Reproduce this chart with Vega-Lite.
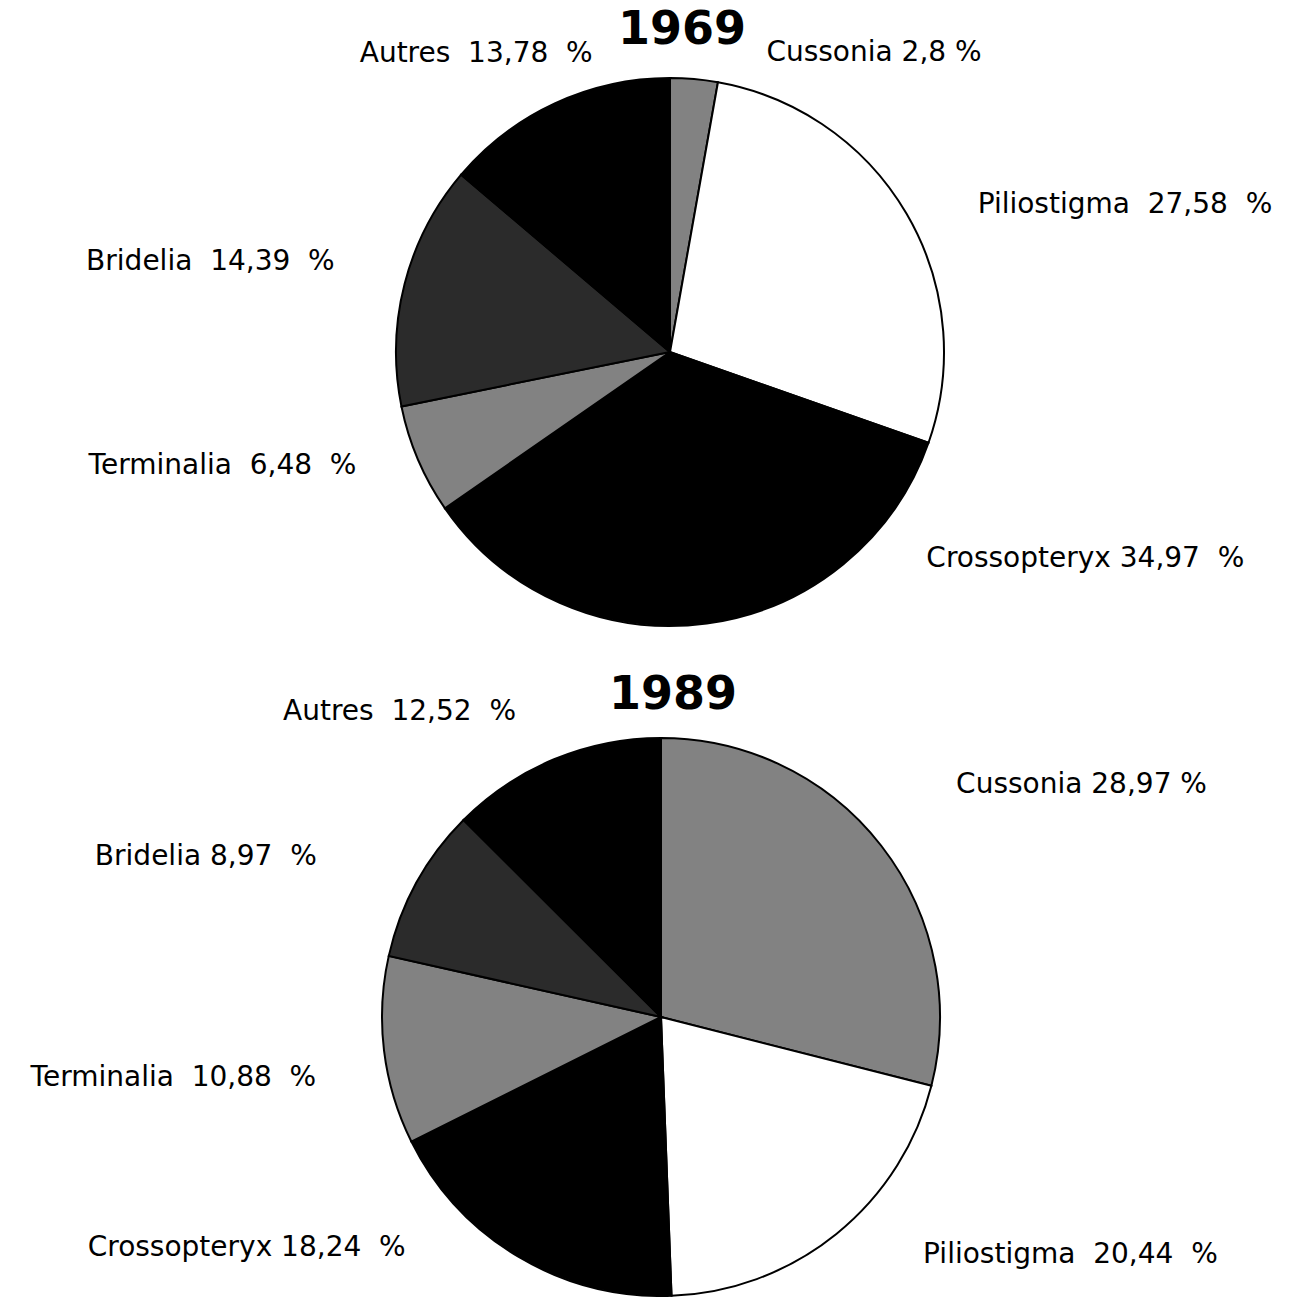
{
  "$schema": "https://vega.github.io/schema/vega-lite/v6.json",
  "width": 1308,
  "height": 1297,
  "padding": 0,
  "autosize": {"type": "none"},
  "background": "white",
  "config": {"view": {"stroke": null}},
  "data": {
    "values": [
      {"year": "1969", "n": 1, "species": "Cussonia", "pct": 2.8, "label": "Cussonia 2,8 %"},
      {"year": "1969", "n": 2, "species": "Piliostigma", "pct": 27.58, "label": "Piliostigma\u00a0 27,58\u00a0 %"},
      {"year": "1969", "n": 3, "species": "Crossopteryx", "pct": 34.97, "label": "Crossopteryx 34,97\u00a0 %"},
      {"year": "1969", "n": 4, "species": "Terminalia", "pct": 6.48, "label": "Terminalia\u00a0 6,48\u00a0 %"},
      {"year": "1969", "n": 5, "species": "Bridelia", "pct": 14.39, "label": "Bridelia\u00a0 14,39\u00a0 %"},
      {"year": "1969", "n": 6, "species": "Autres", "pct": 13.78, "label": "Autres\u00a0 13,78\u00a0 %"},
      {"year": "1989", "n": 1, "species": "Cussonia", "pct": 28.97, "label": "Cussonia 28,97 %"},
      {"year": "1989", "n": 2, "species": "Piliostigma", "pct": 20.44, "label": "Piliostigma\u00a0 20,44\u00a0 %"},
      {"year": "1989", "n": 3, "species": "Crossopteryx", "pct": 18.24, "label": "Crossopteryx 18,24\u00a0 %"},
      {"year": "1989", "n": 4, "species": "Terminalia", "pct": 10.88, "label": "Terminalia\u00a0 10,88\u00a0 %"},
      {"year": "1989", "n": 5, "species": "Bridelia", "pct": 8.97, "label": "Bridelia 8,97\u00a0 %"},
      {"year": "1989", "n": 6, "species": "Autres", "pct": 12.52, "label": "Autres\u00a0 12,52\u00a0 %"}
    ]
  },
  "encoding": {
    "x": {"field": "year", "type": "nominal", "scale": {"type": "point", "range": [670, 661], "padding": 0}, "axis": null},
    "y": {"field": "year", "type": "nominal", "scale": {"type": "point", "range": [352, 1017], "padding": 0}, "axis": null}
  },
  "layer": [
    {
      "transform": [{"filter": "datum.year == '1969'"}],
      "mark": {"type": "arc", "outerRadius": 274, "stroke": "black", "strokeWidth": 2, "fillOpacity": 1},
      "encoding": {
        "theta": {"field": "pct", "type": "quantitative", "stack": true},
        "order": {"field": "n", "type": "quantitative"},
        "color": {"field": "species", "type": "nominal", "legend": null,
          "scale": {"domain": ["Cussonia", "Piliostigma", "Crossopteryx", "Terminalia", "Bridelia", "Autres"],
                    "range": ["#828282", "#ffffff", "#000000", "#828282", "#2b2b2b", "#000000"]}}
      }
    },
    {
      "transform": [{"filter": "datum.year == '1989'"}],
      "mark": {"type": "arc", "outerRadius": 279, "stroke": "black", "strokeWidth": 2, "fillOpacity": 1},
      "encoding": {
        "theta": {"field": "pct", "type": "quantitative", "stack": true},
        "order": {"field": "n", "type": "quantitative"},
        "color": {"field": "species", "type": "nominal", "legend": null}
      }
    },
    {
      "transform": [{"filter": "datum.year == '1969'"}],
      "mark": {"type": "text", "font": "DejaVu Sans", "fontSize": 28, "color": "black", "align": "center", "baseline": "middle",
        "dx": {"expr": "datum.species=='Autres'?-55:datum.species=='Cussonia'?175:datum.species=='Piliostigma'?170:datum.species=='Crossopteryx'?371:datum.species=='Terminalia'?-144:-140"},
        "dy": {"expr": "datum.species=='Autres'?1:datum.species=='Cussonia'?30:datum.species=='Piliostigma'?19:datum.species=='Crossopteryx'?-120:datum.species=='Terminalia'?-16:-8"}},
      "encoding": {
        "theta": {"field": "pct", "type": "quantitative", "stack": true},
        "order": {"field": "n", "type": "quantitative"},
        "radius": {"value": 330},
        "text": {"field": "label", "type": "nominal"}
      }
    },
    {
      "transform": [{"filter": "datum.year == '1989'"}],
      "mark": {"type": "text", "font": "DejaVu Sans", "fontSize": 28, "color": "black", "align": "center", "baseline": "middle",
        "dx": {"expr": "datum.species=='Autres'?-135:datum.species=='Cussonia'?160:datum.species=='Piliostigma'?202:datum.species=='Crossopteryx'?-246:datum.species=='Terminalia'?-160:-166"},
        "dy": {"expr": "datum.species=='Autres'?0:datum.species=='Cussonia'?-29:datum.species=='Piliostigma'?-19:datum.species=='Crossopteryx'?-53:datum.species=='Terminalia'?21:-1"}},
      "encoding": {
        "theta": {"field": "pct", "type": "quantitative", "stack": true},
        "order": {"field": "n", "type": "quantitative"},
        "radius": {"value": 330},
        "text": {"field": "label", "type": "nominal"}
      }
    },
    {
      "transform": [{"aggregate": [{"op": "count", "as": "rows"}], "groupby": ["year"]}],
      "mark": {"type": "text", "font": "DejaVu Sans", "fontWeight": "bold", "fontSize": 46, "color": "black", "align": "center", "baseline": "middle", "dx": 12, "dy": -322},
      "encoding": {
        "text": {"field": "year", "type": "nominal"}
      }
    }
  ]
}
